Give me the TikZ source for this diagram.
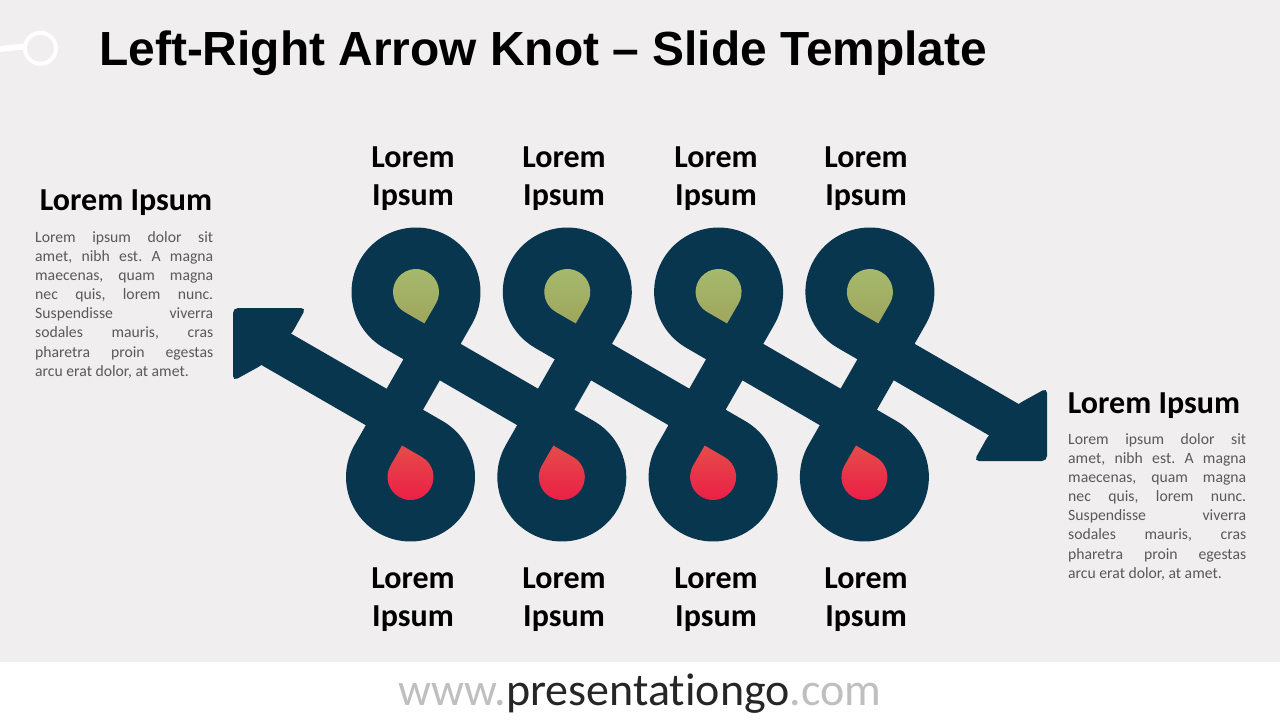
\documentclass[tikz,border=0pt]{standalone}
\usepackage{fontspec}
\setmainfont{Carlito}
\newfontfamily\titlefont{Liberation Sans}
\newfontfamily\urlfont[Ligatures=NoCommon]{Carlito}
\usetikzlibrary{calc}

\definecolor{knotblue}{RGB}{8,54,79}
\definecolor{bggray}{RGB}{240,238,239}
\definecolor{leafgreen}{RGB}{166,186,110}
\definecolor{olivegreen}{RGB}{158,166,92}
\definecolor{droplight}{RGB}{229,76,74}
\definecolor{dropred}{RGB}{235,28,70}
\definecolor{bodygray}{RGB}{89,89,89}
\definecolor{urlgray}{RGB}{191,191,191}
\definecolor{urldark}{RGB}{38,38,38}

\frenchspacing
\newcommand\lorembody{\hyphenpenalty=10000\relax Lorem ipsum dolor sit\linebreak amet, nibh est. A magna\linebreak maecenas, quam magna\linebreak nec quis, lorem nunc.\linebreak Suspendisse viverra\linebreak sodales mauris, cras\linebreak pharetra proin egestas\linebreak arcu erat dolor, at amet.}

\tikzset{
  knot/.style={draw=knotblue, line width=42pt, line join=round},
  headtip/.style={fill=knotblue, rounded corners=5pt},
  looplabel/.style={font=\fontsize{32}{38}\selectfont\bfseries, align=center, inner sep=0pt},
  sidehead/.style={font=\fontsize{32}{38}\selectfont\bfseries, inner sep=0pt},
  sidetext/.style={font=\fontsize{15.7}{19.15}\selectfont, text=bodygray, text width=178pt, align=justify, inner sep=0pt, anchor=north west},
}

\begin{document}
\begin{tikzpicture}[x=1pt,y=-1pt]
\def\loopR{43.5}
\def\dropR{23}

% background and footer band
\fill[bggray] (0,0) rectangle (1280,720);
\fill[white] (0,662) rectangle (1280,720);
\useasboundingbox (0,0) rectangle (1280,720);

% pin icon
\draw[white, line width=6pt] (0,49) -- (25,46.5);
\draw[white, line width=4pt] (40.5,48.3) circle[radius=15.5];

% title
\node[anchor=base west, inner sep=0pt, font=\titlefont\bfseries\fontsize{47.9}{50}\selectfont] (title) at (99,65) {Left-Right Arrow Knot – Slide Template};

% loop centres
\foreach \i in {1,...,4}{
  \coordinate (t\i) at ({416+151.3*(\i-1)},292);
  \coordinate (b\i) at ({410.5+151.3*(\i-1)},477);
}
\coordinate (ls) at (258,338.8);
\coordinate (re) at (1022,430.2);

% knot band
\draw[knot] (ls) \foreach \i in {1,...,4}{
    -- ($(b\i)+(-60:\loopR)$) arc[start angle=-60, end angle=210, radius=\loopR]
    -- ($(t\i)+(30:\loopR)$) arc[start angle=30, end angle=-240, radius=\loopR]
  } -- (re);

% arrow heads
\fill[headtip] (233,308) -- (306,308) -- (292,333) -- (262,365) -- (233,381) -- cycle;
\fill[headtip] (1047,461) -- (974,461) -- (988,436) -- (1018,404) -- (1047,388) -- cycle;

% drops
\foreach \i in {1,...,4}{
  \shade[top color=leafgreen, bottom color=olivegreen] ($(t\i)+(30:\dropR)$) arc[start angle=30, end angle=-240, radius=\dropR] -- ($(t\i)+(75:{\dropR*1.4142})$) -- cycle;
  \shade[top color=droplight, bottom color=dropred] ($(b\i)+(-60:\dropR)$) arc[start angle=-60, end angle=210, radius=\dropR] -- ($(b\i)+(-105:{\dropR*1.4142})$) -- cycle;
}

% loop labels
\foreach \i/\x in {1/413,2/564,3/716,4/866}{
  \node[looplabel] (top\i) at (\x,179) {Lorem\\Ipsum};
  \node[looplabel] (bot\i) at (\x,600) {Lorem\\Ipsum};
}

% side texts
\node[sidehead] (lhead) at (126,203) {Lorem Ipsum};
\node[sidetext] (ltext) at (35,231) {\lorembody};
\node[sidehead] (rhead) at (1154,406) {Lorem Ipsum};
\node[sidetext] (rtext) at (1068,433) {\lorembody};

% footer
\node[inner sep=0pt, font=\urlfont\fontsize{46}{46}\selectfont] (url) at (640,694) {\color{urlgray}www.\color{urldark}presentationgo\color{urlgray}.com};
\end{tikzpicture}
\end{document}
